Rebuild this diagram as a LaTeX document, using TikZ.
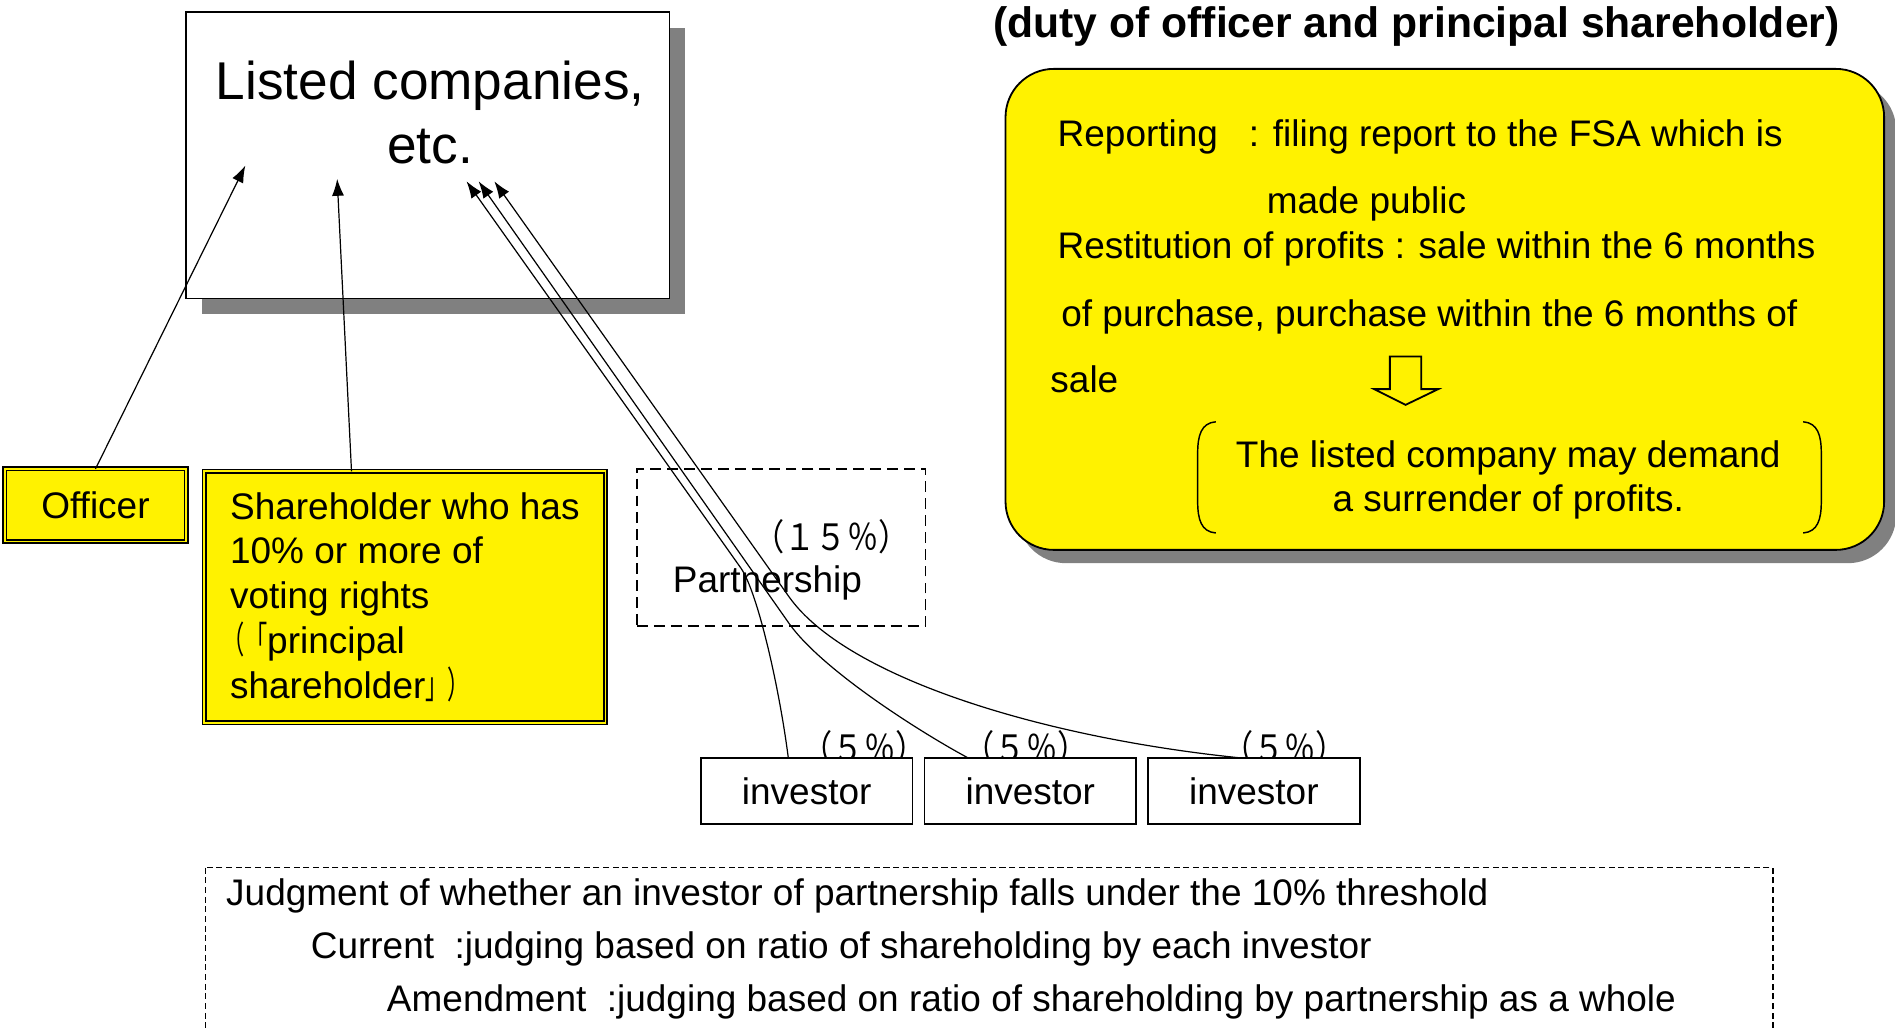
\documentclass[tikz,border=0pt]{standalone}
\usepackage{fontspec}
\setmainfont{Liberation Sans}
\newfontfamily\cjk{Noto Sans CJK JP}
\newfontfamily\cjknarrow[FakeStretch=0.86]{Noto Sans CJK JP}
\newfontfamily\cjkthin[FakeStretch=0.6]{Noto Sans CJK JP}
\usetikzlibrary{positioning,shadows,arrows.meta}

\begin{document}
\begin{tikzpicture}[x=1pt, y=-1pt, font=\fontsize{30.6}{37}\selectfont,
		box/.style = {draw, line width=1.5pt, inner sep=0pt, outer sep=0pt},
		yel/.style = {box, fill=yellow, double=yellow, double distance=1.5pt, line width=1.3pt},
		inv/.style = {box, fill=white, minimum width=175pt, minimum height=55pt},
		arr/.style = {-{Latex[length=14pt,width=10pt]}, line width=1pt},
		txt/.style = {inner sep=0pt, anchor=base west},
		pct/.style = {inner sep=0pt, font=\cjknarrow\fontsize{30}{30}\selectfont}]
		\useasboundingbox (0,0) rectangle (1568,850.6);
		\clip (0,0) rectangle (1568,850.6);
		% listed companies
		\node[box, fill=white, minimum width=400pt, minimum height=237pt,
			drop shadow={shadow xshift=13pt, shadow yshift=-13pt, fill=gray, opacity=1}] (listed) at (354,128.5) {};
		\node[align=center, font=\fontsize{44}{53}\selectfont] (listedtxt) at (356,93) {Listed companies,\\etc.};
		% officer, principal shareholder
		\node[yel, minimum width=150pt, minimum height=60pt] (officer) at (79,418) {Officer};
		\node[yel, minimum width=332pt, minimum height=208pt, align=left] (holder) at (335,494)
			{Shareholder who has\\10\% or more of\\voting rights\\{\cjkthin \kern-6pt（「}principal\\shareholder{\cjkthin 」）}\hspace{12pt}};
		% partnership
		\node[draw, dash pattern=on 9pt off 5pt, line width=1pt, minimum width=239pt, minimum height=130pt] (partner) at (646.5,453) {};
		\node (ptxt) at (635,482) {Partnership};
		\node[pct] (p15) at (688,444) {（１５％）};
		% investors
		\node[pct] (p5a) at (715,619) {（５％）};
		\node[pct] (p5b) at (849,619) {（５％）};
		\node[pct] (p5c) at (1063,619) {（５％）};
		\node[inv] (inv1) at (667.5,654.5) {investor};
		\node[inv, right=10pt of inv1] (inv2) {investor};
		\node[inv, right=10pt of inv2] (inv3) {investor};
		% arrows
		\coordinate (tipA) at (203,137);
		\coordinate (tipB) at (279,148);
		\coordinate (tip1) at (386,150);
		\coordinate (tip2) at (396,150);
		\coordinate (tip3) at (409,150);
		\draw[arr] (officer.north) -- (tipA);
		\draw[arr] (holder.113) -- (tipB);
		\draw[arr] (inv1.119) .. controls (645,570) and (627,490) .. (613,470) -- (tip1);
		\draw[arr] (inv2.152) .. controls (760,605) and (680,554) .. (653,516) -- (tip2);
		\draw[arr] (inv3.114) .. controls (860,610) and (700,560) .. (653,494) -- (tip3);
		% duty of officer and principal shareholder
		\node[font=\bfseries\fontsize{35.3}{42}\selectfont] (title) at (1172,22) {(duty of officer and principal shareholder)};
		\node[box, fill=yellow, rounded corners=40pt, minimum width=727pt, minimum height=398pt,
			drop shadow={shadow xshift=10pt, shadow yshift=-11pt, fill=gray, opacity=1}] (duty) at (1195.5,256) {};
		\node[txt] (rep1) at (875,121) {Reporting\ \ \ : filing report to the FSA which is};
		\node[txt] (rep2) at (1048,177) {made public};
		\node[txt] (res1) at (875,214) {Restitution of profits : sale within the 6 months};
		\node[txt] (res2) at (878,270) {of purchase, purchase within the 6 months of};
		\node[txt] (res3) at (869,325) {sale};
		\draw[line width=1.5pt] (1150,295) -- (1176,295) -- (1176,322) -- (1190,322) -- (1163,335)
			-- (1137,322) -- (1150,322) -- cycle;
		\draw[line width=1.2pt] (1006,349) .. controls (994,350) and (991,360) .. (991,375) -- (991,415)
			.. controls (991,430) and (994,440) .. (1006,441);
		\draw[line width=1.2pt] (1492,349) .. controls (1504,350) and (1507,360) .. (1507,375) -- (1507,415)
			.. controls (1507,430) and (1504,440) .. (1492,441);
		\node[align=center, font=\fontsize{30.6}{36}\selectfont] (demand) at (1248,397) {The listed company may demand\\a surrender of profits.};
		% judgment
		\draw[dash pattern=on 5pt off 3pt, line width=1pt] (170,718) rectangle (1467,900);
		\node[txt] (jud) at (187,749) {Judgment of whether an investor of partnership falls under the 10\% threshold};
		\node[txt] (cur) at (257,793) {Current\ \ :judging based on ratio of shareholding by each investor};
		\node[txt] (ame) at (320,837) {Amendment\ \ :judging based on ratio of shareholding by partnership as a whole};
	\end{tikzpicture}
\end{document}
